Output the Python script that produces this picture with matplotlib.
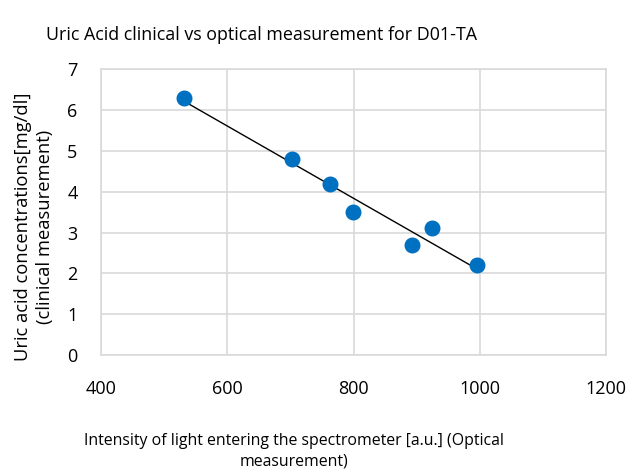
import numpy as np
import matplotlib.pyplot as plt

intensity = [532, 702, 762, 799, 892, 924, 996]
uric_acid = [6.3, 4.8, 4.2, 3.5, 2.7, 3.1, 2.2]

plt.rcParams['font.family'] = ['Open Sans', 'DejaVu Sans']

fig = plt.figure(figsize=(6.32, 4.74), dpi=100)
ax = fig.add_axes([0.160, 0.251, 0.799, 0.603])

# linear trendline
slope, intercept = np.polyfit(intensity, uric_acid, 1)
xs = np.array([min(intensity), max(intensity)])
ax.plot(xs, slope * xs + intercept, color='black', lw=1, zorder=3)
ax.scatter(intensity, uric_acid, s=110, color='#0070C0', zorder=4)

ax.set_xlim(400, 1200)
ax.set_ylim(0, 7)
ax.set_xticks(range(400, 1201, 200))
ax.set_yticks(range(0, 8))
ax.grid(True, color='#D9D9D9', lw=1.2)
ax.set_axisbelow(True)
for s in ax.spines.values():
    s.set_color('#D9D9D9')
    s.set_linewidth(1.2)
ax.tick_params(length=0, labelsize=13, colors='#000000')
ax.tick_params(axis='x', pad=18)
ax.tick_params(axis='y', pad=17)

fig.text(0.413, 0.926, 'Uric Acid clinical vs optical measurement for D01-TA',
         ha='center', va='center', fontsize=12.9)
fig.text(0.465, 0.048, 'Intensity of light entering the spectrometer [a.u.] (Optical\nmeasurement)',
         ha='center', va='center', fontsize=11.4, multialignment='center', linespacing=1.4)
fig.text(0.054, 0.522, 'Uric acid concentrations[mg/dl]\n(clinical measurement)',
         ha='center', va='center', rotation=90, fontsize=13.2, multialignment='center',
         linespacing=1.3)

fig.savefig('out.png', dpi=100)
